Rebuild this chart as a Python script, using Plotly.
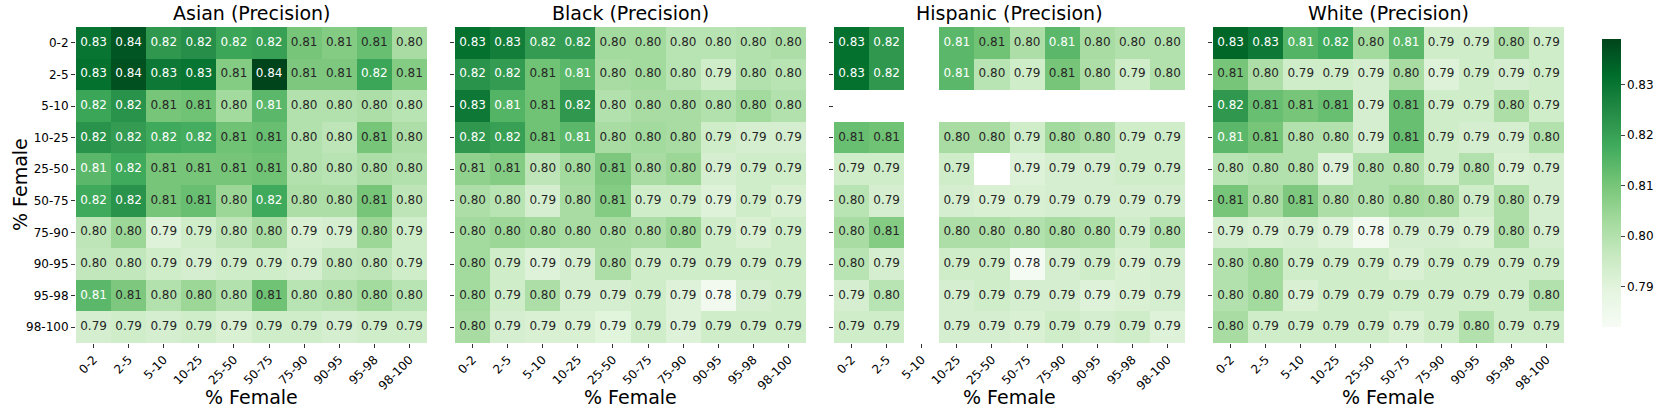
import plotly.graph_objects as go
import plotly.colors as pc

# categorias (% female) para filas y columnas
bins = ["0-2", "2-5", "5-10", "10-25", "25-50", "50-75", "75-90", "90-95", "95-98", "98-100"]

# precision por grupo (filas = % female eje y, columnas = % female eje x)
asian = [
    [0.830, 0.836, 0.822, 0.824, 0.819, 0.820, 0.810, 0.808, 0.812, 0.802],
    [0.831, 0.837, 0.829, 0.830, 0.808, 0.839, 0.809, 0.809, 0.819, 0.808],
    [0.819, 0.823, 0.810, 0.811, 0.803, 0.814, 0.800, 0.800, 0.801, 0.799],
    [0.823, 0.821, 0.818, 0.817, 0.811, 0.812, 0.800, 0.798, 0.810, 0.801],
    [0.814, 0.818, 0.810, 0.810, 0.810, 0.811, 0.800, 0.799, 0.801, 0.800],
    [0.818, 0.823, 0.810, 0.812, 0.804, 0.818, 0.801, 0.801, 0.810, 0.798],
    [0.798, 0.804, 0.791, 0.794, 0.798, 0.802, 0.792, 0.793, 0.804, 0.794],
    [0.797, 0.797, 0.794, 0.793, 0.794, 0.794, 0.793, 0.797, 0.798, 0.794],
    [0.814, 0.809, 0.800, 0.804, 0.800, 0.811, 0.799, 0.800, 0.803, 0.799],
    [0.793, 0.794, 0.793, 0.794, 0.792, 0.794, 0.794, 0.793, 0.794, 0.794],
]
black = [
    [0.831, 0.828, 0.821, 0.821, 0.803, 0.803, 0.799, 0.799, 0.800, 0.801],
    [0.823, 0.821, 0.811, 0.814, 0.802, 0.803, 0.799, 0.794, 0.800, 0.799],
    [0.829, 0.815, 0.811, 0.822, 0.800, 0.802, 0.802, 0.800, 0.803, 0.800],
    [0.822, 0.820, 0.811, 0.814, 0.802, 0.803, 0.802, 0.794, 0.793, 0.793],
    [0.806, 0.808, 0.798, 0.803, 0.809, 0.802, 0.804, 0.793, 0.794, 0.794],
    [0.801, 0.799, 0.793, 0.802, 0.808, 0.794, 0.794, 0.791, 0.794, 0.792],
    [0.803, 0.804, 0.803, 0.802, 0.802, 0.801, 0.804, 0.794, 0.792, 0.794],
    [0.803, 0.794, 0.791, 0.793, 0.801, 0.794, 0.794, 0.794, 0.794, 0.794],
    [0.803, 0.794, 0.801, 0.793, 0.793, 0.794, 0.791, 0.784, 0.793, 0.794],
    [0.802, 0.793, 0.792, 0.792, 0.790, 0.794, 0.791, 0.794, 0.794, 0.794],
]
hispanic = [
    [0.831, 0.822, None, 0.814, 0.811, 0.801, 0.814, 0.802, 0.800, 0.800],
    [0.831, 0.822, None, 0.814, 0.799, 0.794, 0.810, 0.801, 0.794, 0.800],
    [None, None, None, None, None, None, None, None, None, None],
    [0.812, 0.811, None, 0.802, 0.802, 0.794, 0.803, 0.801, 0.794, 0.794],
    [0.794, 0.794, None, 0.794, None, 0.791, 0.793, 0.793, 0.794, 0.794],
    [0.799, 0.793, None, 0.793, 0.792, 0.792, 0.793, 0.793, 0.793, 0.793],
    [0.802, 0.808, None, 0.801, 0.801, 0.800, 0.802, 0.801, 0.794, 0.800],
    [0.799, 0.793, None, 0.794, 0.794, 0.783, 0.793, 0.794, 0.792, 0.793],
    [0.793, 0.799, None, 0.793, 0.794, 0.793, 0.793, 0.791, 0.792, 0.793],
    [0.794, 0.794, None, 0.793, 0.793, 0.792, 0.794, 0.793, 0.794, 0.791],
]
white = [
    [0.833, 0.829, 0.815, 0.818, 0.803, 0.814, 0.794, 0.794, 0.801, 0.794],
    [0.810, 0.801, 0.794, 0.794, 0.793, 0.802, 0.791, 0.794, 0.793, 0.794],
    [0.822, 0.812, 0.810, 0.812, 0.793, 0.812, 0.794, 0.794, 0.801, 0.794],
    [0.814, 0.810, 0.800, 0.800, 0.793, 0.812, 0.794, 0.793, 0.793, 0.800],
    [0.799, 0.800, 0.800, 0.791, 0.800, 0.800, 0.794, 0.800, 0.792, 0.793],
    [0.810, 0.802, 0.809, 0.801, 0.800, 0.803, 0.802, 0.794, 0.801, 0.793],
    [0.793, 0.792, 0.793, 0.791, 0.784, 0.793, 0.793, 0.792, 0.801, 0.793],
    [0.800, 0.803, 0.794, 0.794, 0.794, 0.792, 0.794, 0.794, 0.794, 0.794],
    [0.800, 0.803, 0.792, 0.794, 0.794, 0.794, 0.794, 0.794, 0.794, 0.800],
    [0.802, 0.794, 0.794, 0.794, 0.794, 0.792, 0.794, 0.800, 0.794, 0.794],
]

panels = [
    ("Asian (Precision)", asian),
    ("Black (Precision)", black),
    ("Hispanic (Precision)", hispanic),
    ("White (Precision)", white),
]

W, H = 1661, 416


def px_x(p):
    return p / W


def px_y(p):
    return 1 - p / H


# posiciones de los paneles en pixeles
x_px = [(76, 427), (455, 806), (834, 1185), (1213, 1564)]
y_top, y_bot = 27, 343
FONT = "DejaVu Sans"
greens = pc.sequential.Greens
cscale = [[i / (len(greens) - 1), c] for i, c in enumerate(greens)]

fig = go.Figure()
layout = dict(
    width=W, height=H,
    margin=dict(l=0, r=0, t=0, b=0),
    paper_bgcolor="white", plot_bgcolor="white",
    font=dict(family=FONT, size=12, color="black"),
    showlegend=False,
    coloraxis=dict(
        colorscale=cscale, cmin=0.782, cmax=0.839,
        colorbar=dict(
            x=px_x(1602), xanchor="left", xpad=0, y=px_y(39), yanchor="top", ypad=0,
            len=288 / H, lenmode="fraction", thickness=19, outlinewidth=0,
            ticks="outside", ticklen=4, tickvals=[0.79, 0.80, 0.81, 0.82, 0.83],
            tickformat=".2f", tickfont=dict(size=12),
        ),
    ),
    annotations=[],
)

for k, (titulo, datos) in enumerate(panels):
    sfx = "" if k == 0 else str(k + 1)
    xa, ya = "x" + sfx, "y" + sfx
    fig.add_trace(go.Heatmap(
        z=datos, x=bins, y=bins, coloraxis="coloraxis",
        xaxis=xa, yaxis=ya, hoverongaps=False,
    ))
    # texto de cada celda
    tx, ty, tt, tc = [], [], [], []
    for i, fila in enumerate(datos):
        for j, v in enumerate(fila):
            if v is None:
                continue
            tx.append(bins[j])
            ty.append(bins[i])
            tt.append(f"{v:.2f}")
            tc.append("white" if v > 0.8135 else "#262626")
    fig.add_trace(go.Scatter(
        x=tx, y=ty, text=tt, mode="text", hoverinfo="skip",
        textfont=dict(family=FONT, size=12, color=tc),
        xaxis=xa, yaxis=ya,
    ))
    x0, x1 = x_px[k]
    layout["xaxis" + sfx] = dict(
        domain=[px_x(x0), px_x(x1)], anchor=ya, type="category",
        categoryorder="array", categoryarray=bins, range=[-0.5, 9.5],
        ticks="outside", ticklen=4, tickcolor="#333", tickangle=-45,
        tickfont=dict(size=12), showgrid=False, zeroline=False, showline=False,
    )
    layout["yaxis" + sfx] = dict(
        domain=[px_y(y_bot), px_y(y_top)], anchor=xa, type="category",
        categoryorder="array", categoryarray=bins, range=[9.5, -0.5],
        ticks="outside", ticklen=4, tickcolor="#333",
        showticklabels=(k == 0), tickfont=dict(size=12),
        showgrid=False, zeroline=False, showline=False,
    )
    cx = px_x((x0 + x1) / 2)
    layout["annotations"].append(dict(
        text=titulo, x=cx, y=px_y(1), xref="paper", yref="paper",
        showarrow=False, font=dict(size=19), xanchor="center", yanchor="top",
        borderpad=0,
    ))
    layout["annotations"].append(dict(
        text="% Female", x=cx, y=px_y(397), xref="paper", yref="paper",
        showarrow=False, font=dict(size=19), xanchor="center", yanchor="middle",
    ))

layout["annotations"].append(dict(
    text="% Female", x=px_x(20), y=px_y(185), xref="paper", yref="paper",
    showarrow=False, font=dict(size=19), textangle=-90,
    xanchor="center", yanchor="middle",
))

fig.update_layout(**layout)
# quitar el margen por defecto del body para que la figura llene la ventana
fig.write_html(
    "out.html",
    config={"displayModeBar": False},
    post_script="document.body.style.margin='0';",
)
